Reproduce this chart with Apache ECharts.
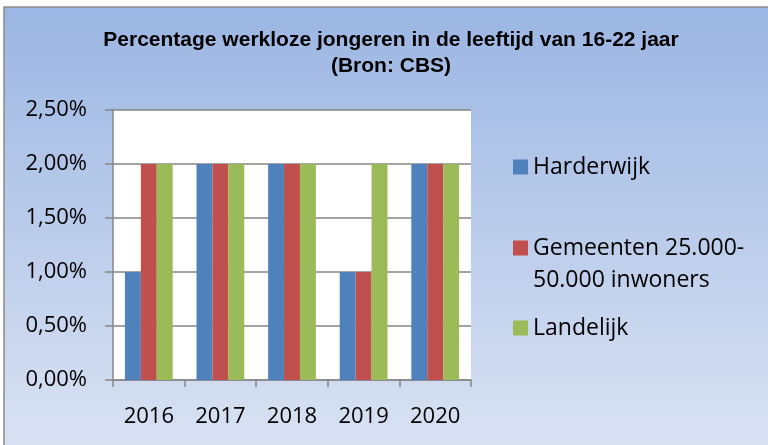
<!DOCTYPE html>
<html lang="nl">
<head>
<meta charset="UTF-8">
<title>Werkloze jongeren</title>
<script src="https://cdn.jsdelivr.net/npm/echarts@6/dist/echarts.min.js"></script>
<style>
  html, body { margin: 0; padding: 0; background: #fff; }
  #chart { width: 768px; height: 445px; }
</style>
</head>
<body>
<div id="chart"></div>
<script>
// data
var years = ['2016', '2017', '2018', '2019', '2020'];
var harderwijk = [1, 2, 2, 1, 2];
var gemeenten = [2, 2, 2, 1, 2];
var landelijk = [2, 2, 2, 2, 2];
var seriesNames = ['Harderwijk', 'Gemeenten 25.000-50.000 inwoners', 'Landelijk'];
var colors = ['#4F81BD', '#C0504D', '#9BBB59'];

var chart = echarts.init(document.getElementById('chart'));
var bodyFont = "'Open Sans', sans-serif";

function legendFor(name, top, wrap) {
  var l = {
    data: [name],
    orient: 'vertical',
    left: 513,
    top: top,
    padding: 0,
    icon: 'rect',
    itemWidth: 15,
    itemHeight: 15,
    itemGap: 0,
    selectedMode: false,
    textStyle: { fontFamily: bodyFont, fontSize: 23, color: '#000', lineHeight: 32 }
  };
  if (wrap) {
    // empty first line so the square lines up with the first text line
    l.formatter = function () { return '\u00a0\nGemeenten 25.000-\n50.000 inwoners'; };
  }
  return l;
}

var option = {
  animation: false,
  color: colors,
  graphic: [{
    type: 'rect',
    shape: { x: 4, y: 7, width: 800, height: 480 },
    style: {
      stroke: '#8a8a8a',
      lineWidth: 1.5,
      fill: new echarts.graphic.LinearGradient(0, 0, 0, 1, [
        { offset: 0, color: '#9BB6E3' },
        { offset: 1, color: '#DFE6F4' }
      ])
    },
    z: -10
  }],
  title: {
    text: 'Percentage werkloze jongeren in de leeftijd van 16-22 jaar\n(Bron: CBS)',
    left: 391,
    top: 27,
    padding: 0,
    textAlign: 'center',
    textStyle: {
      fontFamily: "'Liberation Sans', Arial, sans-serif",
      fontWeight: 'bold',
      fontSize: 21,
      lineHeight: 26,
      color: '#000'
    }
  },
  legend: [
    legendFor(seriesNames[0], 151),
    legendFor(seriesNames[1], 200, true),
    legendFor(seriesNames[2], 312)
  ],
  grid: {
    left: 113,
    right: 297,
    top: 110,
    bottom: 65,
    show: true,
    backgroundColor: '#fff',
    borderWidth: 0
  },
  xAxis: {
    type: 'category',
    data: years,
    axisLine: { lineStyle: { color: '#868686', width: 1.5 } },
    axisTick: { show: true, length: 7, lineStyle: { color: '#868686', width: 1.5 } },
    axisLabel: { fontFamily: bodyFont, fontSize: 22, color: '#000', margin: 26 }
  },
  yAxis: {
    type: 'value',
    min: 0,
    max: 2.5,
    interval: 0.5,
    axisLine: { show: true, lineStyle: { color: '#868686', width: 1.5 } },
    axisTick: { show: true, length: 8, lineStyle: { color: '#868686', width: 1.5 } },
    splitLine: { lineStyle: { color: '#868686', width: 1.5 } },
    axisLabel: {
      fontFamily: bodyFont, fontSize: 22, color: '#000', margin: 26,
      formatter: function (v) { return v.toFixed(2).replace('.', ',') + '%'; }
    }
  },
  series: [
    { name: seriesNames[0], type: 'bar', data: harderwijk, barGap: '0%', barCategoryGap: '33.3%' },
    { name: seriesNames[1], type: 'bar', data: gemeenten, barGap: '0%', barCategoryGap: '33.3%' },
    { name: seriesNames[2], type: 'bar', data: landelijk, barGap: '0%', barCategoryGap: '33.3%' }
  ]
};

chart.setOption(option);
</script>
</body>
</html>
